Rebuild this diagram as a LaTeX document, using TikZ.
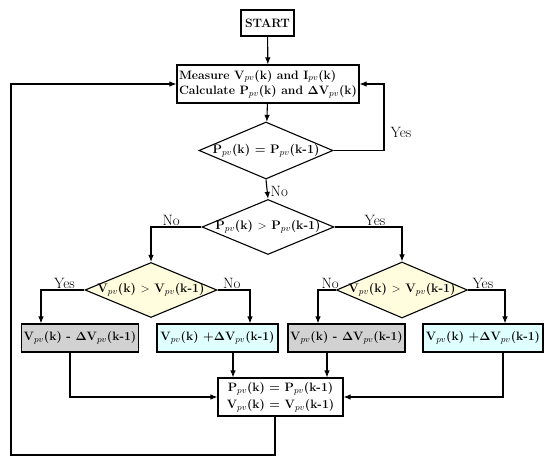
\documentclass[tikz,border=0pt]{standalone}
\usepackage{amsmath}
\usepackage{amssymb}
\usepackage{tikz}
\usetikzlibrary{shapes.geometric,arrows.meta}
\definecolor{condfill}{RGB}{255,253,222}
\definecolor{decfill}{RGB}{210,210,210}
\definecolor{incfill}{RGB}{224,255,255}
\newcommand{\pvv}[1]{#1$_{pv}$}
\newcommand{\ctext}[1]{\makebox[0pt]{#1}}

\begin{document}
\begin{tikzpicture}[->, >={Latex[length=7bp,width=5.5bp]}, x=1bp, y=-1bp, line width=1.1pt]
  \tikzstyle{block}=[rectangle, draw, inner sep=2pt, align=center,
                     font=\bfseries\fontsize{12.2}{17}\selectfont]
  \tikzstyle{decision}=[diamond, draw, inner sep=0pt,
                        font=\bfseries\fontsize{12.4}{15}\selectfont]
  \tikzstyle{answer}=[font=\fontsize{15}{17}\selectfont, inner sep=1pt]

  \useasboundingbox (0,0) rectangle (550,466);

  \node[block, minimum width=53bp, minimum height=26bp] (start) at (267.5,23) {START};
  \node[block, align=left, minimum width=182bp, minimum height=38bp] (meas) at (268,84)
    {Measure \pvv{V}(k) and \pvv{I}(k)\\[-1.5bp]Calculate \pvv{P}(k) and $\mathbf{\Delta}$\pvv{V}(k)};

  \node[decision, minimum width=134bp, minimum height=57bp] (D1) at (266,150.5)
    {\ctext{\pvv{P}(k) = \pvv{P}(k-1)}};
  \node[decision, minimum width=132bp, minimum height=55bp] (D2) at (268,227)
    {\ctext{\pvv{P}(k) $>$ \pvv{P}(k-1)}};
  \node[decision, fill=condfill, minimum width=132bp, minimum height=55bp] (D3) at (151,290)
    {\ctext{\pvv{V}(k) $>$ \pvv{V}(k-1)}};
  \node[decision, fill=condfill, minimum width=131bp, minimum height=56bp] (D4) at (402,290)
    {\ctext{\pvv{V}(k) $>$ \pvv{V}(k-1)}};

  \node[block, fill=decfill, minimum width=114bp, minimum height=28bp] (B1) at (80,338)
    {\pvv{V}(k) - $\mathbf{\Delta}$\pvv{V}(k-1)};
  \node[block, fill=incfill, minimum width=121bp, minimum height=28bp] (B2) at (217.5,338)
    {\pvv{V}(k) +$\mathbf{\Delta}$\pvv{V}(k-1)};
  \node[block, fill=decfill, minimum width=117bp, minimum height=28bp] (B3) at (346.5,338)
    {\pvv{V}(k) - $\mathbf{\Delta}$\pvv{V}(k-1)};
  \node[block, fill=incfill, minimum width=120bp, minimum height=28bp] (B4) at (483,338)
    {\pvv{V}(k) +$\mathbf{\Delta}$\pvv{V}(k-1)};

  \node[block, minimum width=125bp, minimum height=38bp] (upd) at (280.5,397)
    {\pvv{P}(k) = \pvv{P}(k-1)\\\pvv{V}(k) = \pvv{V}(k-1)};

  \coordinate (yes) at (384,150.5);
  \coordinate (back) at (11,455);

  \draw (start) -- (meas);
  \draw (meas) -- (D1);
  \draw (D1.east) -- (yes) |- (meas.east);
  \node[answer] (y1) at (401,132) {Yes};
  \draw (D1.south) -- node[answer, pos=0.6, right=2pt] (n1) {No} (D2.north);

  \draw (D2.west) -| node[answer, pos=0.3, above] (n2) {No} (D3.north);
  \draw (D2.east) -| node[answer, pos=0.3, above] (y2) {Yes} (D4.north);

  \draw (D3.west) -| node[answer, pos=0.23, above] (y3) {Yes} ([xshift=-39bp]B1.north);
  \draw (D3.east) -| node[answer, pos=0.22, above] (n3) {No} ([xshift=32.5bp]B2.north);
  \draw (D4.west) -| node[answer, pos=0.16, above] (n4) {No} ([xshift=-28.5bp]B3.north);
  \draw (D4.east) -| node[answer, pos=0.2, above] (y4) {Yes} ([xshift=22bp]B4.north);

  \draw ([xshift=-10bp]B1.south) |- (upd.west);
  \draw ([xshift=15.5bp]B2.south) -- ([xshift=15.5bp]B2.south |- upd.north);
  \draw ([xshift=-19.5bp]B3.south) -- ([xshift=-19.5bp]B3.south |- upd.north);
  \draw ([xshift=20bp]B4.south) |- (upd.east);

  \draw ([xshift=-5.5bp]upd.south) |- (back) |- (meas.west);
\end{tikzpicture}
\end{document}
